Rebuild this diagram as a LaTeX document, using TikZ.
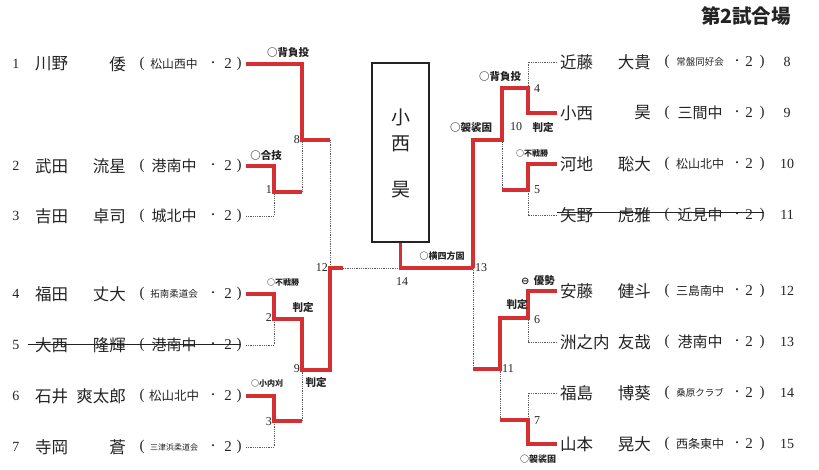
\documentclass[tikz,border=0pt]{standalone}
\usepackage{fontspec}
\setmainfont{Liberation Serif}
\newfontfamily\jp{Noto Sans CJK JP}
\newfontfamily\symf{DejaVu Sans}
\definecolor{rd}{RGB}{212,48,52}
\definecolor{dg}{RGB}{95,95,95}
\definecolor{tx}{RGB}{35,35,35}
\newcommand\fs[1]{\fontsize{#1}{#1}\selectfont}
\newcommand\lentry[6]{%
  \node[numtxt] (num#1) at (16,#2) {#1};
  \node[nametxt,anchor=west] (fam#1) at (35,#2) {#3};
  \node[nametxt,anchor=east] (giv#1) at (126,#2) {#4};
  \node[partxt] (lp#1) at (142,#2) {(};
  \node[schtxt,font=\jp\fs{#6}] (sch#1) at (174,#2) {#5};
  \node[dottxt] (dt#1) at (213,#2) {・};
  \node[partxt] (two#1) at (228,#2) {2};
  \node[partxt] (rp#1) at (239,#2) {)};
  \coordinate (e#1) at (246,#2);
}
\newcommand\rentry[6]{%
  \coordinate (e#1) at (557,#2);
  \node[nametxt,anchor=west] (fam#1) at (560,#2) {#3};
  \node[nametxt,anchor=east] (giv#1) at (651,#2) {#4};
  \node[partxt] (lp#1) at (667,#2) {(};
  \node[schtxt,font=\jp\fs{#6}] (sch#1) at (700,#2) {#5};
  \node[dottxt] (dt#1) at (737,#2) {・};
  \node[partxt] (two#1) at (749,#2) {2};
  \node[partxt] (rp#1) at (762,#2) {)};
  \node[numtxt] (num#1) at (787,#2) {#1};
}
\begin{document}
\begin{tikzpicture}[x=1pt,y=-1pt,
  every node/.style={inner sep=0pt, text=tx},
  numtxt/.style={font=\fs{14}},
  nametxt/.style={font=\jp\fs{16.5}},
  partxt/.style={font=\fs{15}},
  dottxt/.style={font=\jp\fs{10}},
  schtxt/.style={},
  jn/.style={font=\fs{12}},
  lab/.style={font=\jp\bfseries\fs{10.5}},
  labs/.style={font=\jp\bfseries\fs{8}},
  win/.style={draw=rd, line width=3.2pt, line join=miter},
  lose/.style={draw=dg, line width=0.9pt, dash pattern=on 0.9pt off 0.9pt},
  strike/.style={draw=tx, line width=0.8pt}]
\useasboundingbox (0,0) rectangle (819,470);

% title
\node[font=\jp\bfseries\fs{19.5}] (title) at (746,16) {第2試合場};

% left entries
\lentry{1}{64}{川野}{倭}{松山西中}{11.8}
\lentry{2}{166}{武田}{流星}{港南中}{15}
\lentry{3}{216}{吉田}{卓司}{城北中}{15}
\lentry{4}{294}{福田}{丈大}{拓南柔道会}{9.5}
\lentry{5}{345}{大西}{隆輝}{港南中}{15}
\lentry{6}{396}{石井}{爽太郎}{松山北中}{12.5}
\lentry{7}{447}{寺岡}{蒼}{三津浜柔道会}{8}

% right entries
\rentry{8}{62}{近藤}{大貴}{常盤同好会}{9.5}
\rentry{9}{113}{小西}{昊}{三間中}{15}
\rentry{10}{164}{河地}{聡大}{松山北中}{12}
\rentry{11}{215}{矢野}{虎雅}{近見中}{15}
\rentry{12}{291}{安藤}{健斗}{三島南中}{12}
\rentry{13}{342}{洲之内}{友哉}{港南中}{15}
\rentry{14}{393}{福島}{博葵}{桑原クラブ}{9.5}
\rentry{15}{444}{山本}{晃大}{西条東中}{12}

% strike-throughs
\coordinate (s5a) at (28,344); \coordinate (s5b) at (241,344);
\coordinate (s11a) at (557,212); \coordinate (s11b) at (764,212);
\draw[strike] (s5a) -- (s5b);
\draw[strike] (s11a) -- (s11b);

% junctions
\coordinate (m1) at (274,192);
\coordinate (m8) at (302,140);
\coordinate (m2) at (274,319);
\coordinate (m9) at (302,370);
\coordinate (m3) at (274,421);
\coordinate (m12) at (330,268);
\coordinate (m12e) at (343,268);
\coordinate (fin) at (400.5,268);
\coordinate (m13) at (473,268);
\coordinate (m10) at (502,140);
\coordinate (m4) at (528,88);
\coordinate (m5) at (528,190);
\coordinate (m11) at (500,369);
\coordinate (m6) at (528,318);
\coordinate (m7) at (528,420);

% champion box
\node[draw=tx, line width=2pt, minimum width=57pt, minimum height=179pt] (champ) at (400.5,152.5) {};
\node[font=\jp\fs{19}] (c1) at (400.5,117) {小};
\node[font=\jp\fs{19}] (c2) at (400.5,144) {西};
\node[font=\jp\fs{19}] (c3) at (400.5,190) {昊};

% losing (dotted) lines
\draw[lose] (e3) -| (m1);
\draw[lose] (m1 -| m8) -- (m8);
\draw[lose] (m8 -| m12) -- (m12);
\draw[lose] (e5) -| (m2);
\draw[lose] (e7) -| (m3);
\draw[lose] (m3 -| m9) -- (m9);
\draw[lose] (m12e) -- (fin);
\draw[lose] (e8) -| (m4);
\draw[lose] (e11) -| (m5);
\draw[lose] (m5 -| m10) -- (m10);
\draw[lose] (m13) -- (m11 -| m13);
\draw[lose] (e13) -| (m6);
\draw[lose] (e14) -| (m7);
\draw[lose] (m7 -| m11) -- (m11);

% winning (red) lines
\draw[win] (e2) -| (m1) -- (m1 -| m8);
\draw[win] (e1) -| (m8) -- (m8 -| m12);
\draw[win] (e4) -| (m2) -| (m9) -- (m9 -| m12) -- (m12) -- (m12e);
\draw[win] (e6) -| (m3) -- (m3 -| m9);
\draw[win] (champ.south) -- (fin) -- (m13);
\draw[win] (e9) -| (m4) -| (m10) -- (m10 -| m13) -- (m13);
\draw[win] (e10) -| (m5) -- (m5 -| m10);
\draw[win] (e12) -| (m6) -| (m11) -- (m11 -| m13);
\draw[win] (e15) -| (m7) -- (m7 -| m11);

% match numbers
\node[jn,anchor=east] (j8) at (300,140) {8};
\node[jn,anchor=east] (j1) at (272,190) {1};
\node[jn,anchor=east] (j12) at (328,268) {12};
\node[jn,anchor=east] (j2) at (272,318) {2};
\node[jn,anchor=east] (j9) at (300,369) {9};
\node[jn,anchor=east] (j3) at (272,422) {3};
\node[jn] (j14) at (402,282) {14};
\node[jn,anchor=west] (j13) at (475,268) {13};
\node[jn] (j4) at (537,89) {4};
\node[jn] (j10) at (516,127) {10};
\node[jn] (j5) at (537,190) {5};
\node[jn] (j6) at (537,320) {6};
\node[jn,anchor=west] (j11) at (502,369) {11};
\node[jn] (j7) at (537,421) {7};

% technique labels
\node[lab] (t1) at (288,53) {○背負投};
\node[lab] (t2) at (266,156) {○合技};
\node[labs] (t3) at (283,282) {○不戦勝};
\node[lab] (t4) at (303,308) {判定};
\node[labs] (t5) at (267,383) {○小内刈};
\node[lab] (t6) at (316,383) {判定};
\node[font=\jp\bfseries\fs{9}] (t7) at (442,256) {○横四方固};
\node[lab] (t8) at (500,77) {○背負投};
\node[lab] (t9) at (471,128) {○袈裟固};
\node[lab] (t10) at (543,128) {判定};
\node[labs] (t11) at (532,153) {○不戦勝};
\node[lab] (t12) at (538,281) {{\symf\fs{10}⊖}\, 優勢};
\node[lab] (t13) at (517,305) {判定};
\node[font=\jp\bfseries\fs{9}] (t14) at (538,459) {○袈裟固};
\end{tikzpicture}
\end{document}
